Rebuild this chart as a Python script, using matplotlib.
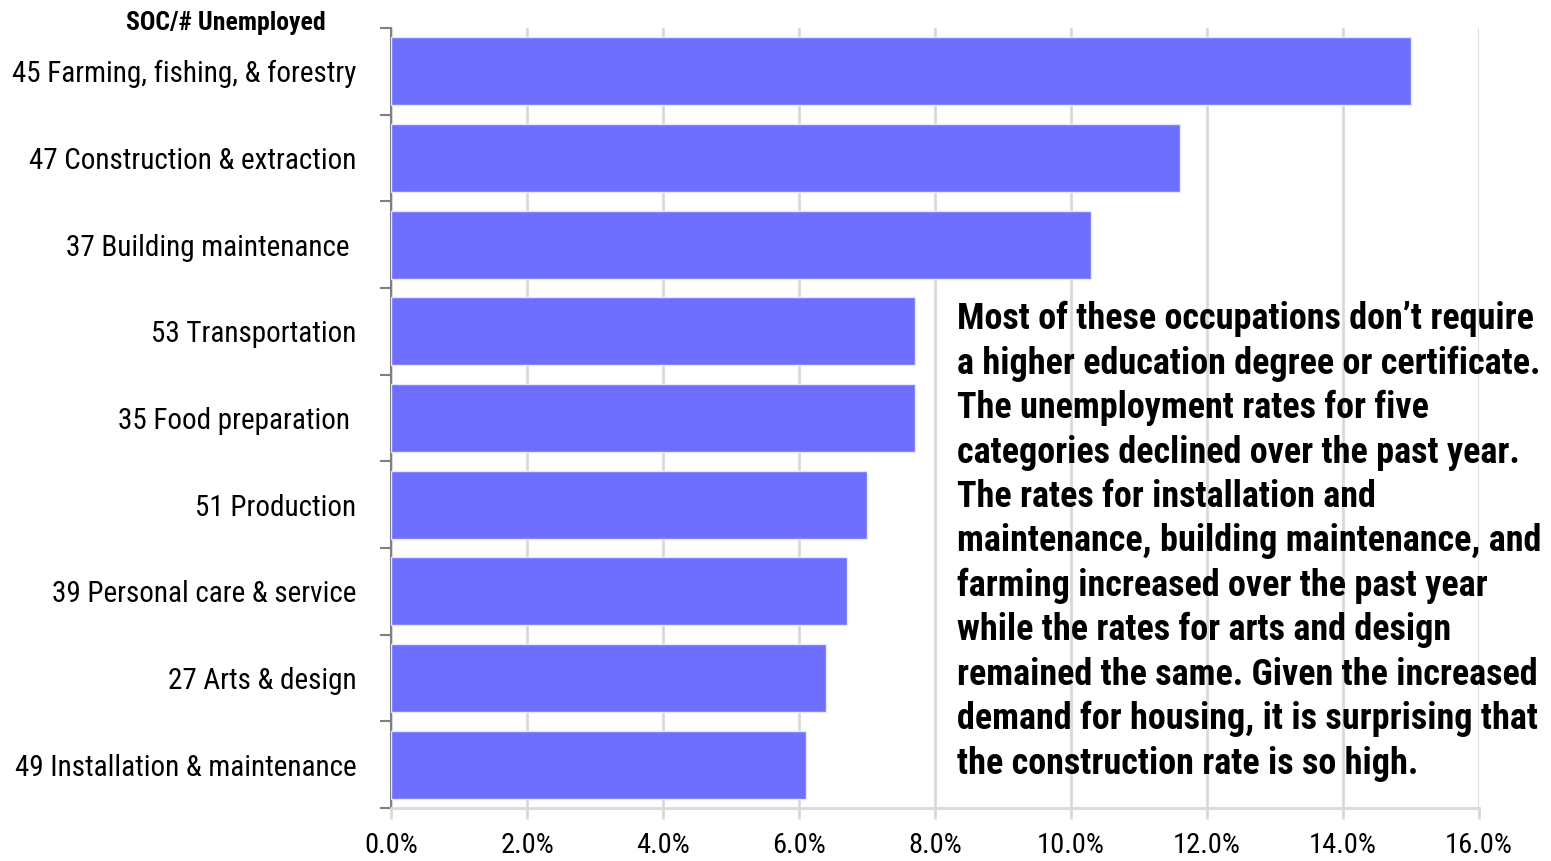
import matplotlib
matplotlib.use("Agg")
import matplotlib.pyplot as plt
from matplotlib.ticker import FuncFormatter

plt.rcParams['font.family'] = ["Roboto Condensed", 'DejaVu Sans']

categories = ["45 Farming, fishing, & forestry", "47 Construction & extraction",
              "37 Building maintenance ", "53 Transportation", "35 Food preparation ",
              "51 Production", "39 Personal care & service", "27 Arts & design",
              "49 Installation & maintenance"]
rates = [15.0, 11.6, 10.3, 7.7, 7.7, 7.0, 6.7, 6.4, 6.1]
xticks = [0, 2, 4, 6, 8, 10, 12, 14, 16]
header = "SOC/# Unemployed"
note = ("Most of these occupations don\u2019t require\n"
        "a higher education degree or certificate.\n"
        "The unemployment rates for five\n"
        "categories declined over the past year.\n"
        "The rates for installation and\n"
        "maintenance, building maintenance, and\n"
        "farming increased over the past year\n"
        "while the rates for arts and design\n"
        "remained the same. Given the increased\n"
        "demand for housing, it is surprising that\n"
        "the construction rate is so high.")

fig = plt.figure(figsize=(15.51, 8.61), dpi=100)
ax = fig.add_axes([391/1551, 1 - 808/861, (1479-391)/1551, (808-28)/861])

n = len(categories)
ypos = list(range(n))
ax.barh(ypos, rates, height=0.785, color="#6F6FFF", edgecolor="#E6E6FF", linewidth=1, zorder=3)
ax.set_ylim(n - 0.5, -0.5)
ax.set_xlim(0, 16)
ax.set_xticks(xticks)
ax.xaxis.set_major_formatter(FuncFormatter(lambda v, p: f"{v:.1f}%"))
ax.grid(axis="x", color="#D9D9D9", linewidth=2, zorder=0)
ax.set_yticks(ypos)
ax.set_yticklabels(categories)
ax.set_yticks([i - 0.5 for i in range(n + 1)], minor=True)
ax.tick_params(axis="y", which="major", length=0, pad=25, labelsize=21)
ax.tick_params(axis="y", which="minor", length=8, color="#808080", width=1.5)
ax.tick_params(axis="x", length=8, color="#D9D9D9", width=2, labelsize=20.5, pad=9)
for s in ["top", "right"]:
    ax.spines[s].set_visible(False)
ax.spines["left"].set_color("#808080")
ax.spines["left"].set_linewidth(1.5)
ax.spines["bottom"].set_color("#D9D9D9")
ax.spines["bottom"].set_linewidth(2)

fig.text(226/1551, 1 - 23/861, header, fontsize=18.5, fontweight="bold", ha="center", va="center")
fig.text(957/1551, 1 - 301/861, note, fontsize=26, fontweight="bold", ha="left", va="top",
         linespacing=1.295)

fig.savefig("out.png", dpi=100)
